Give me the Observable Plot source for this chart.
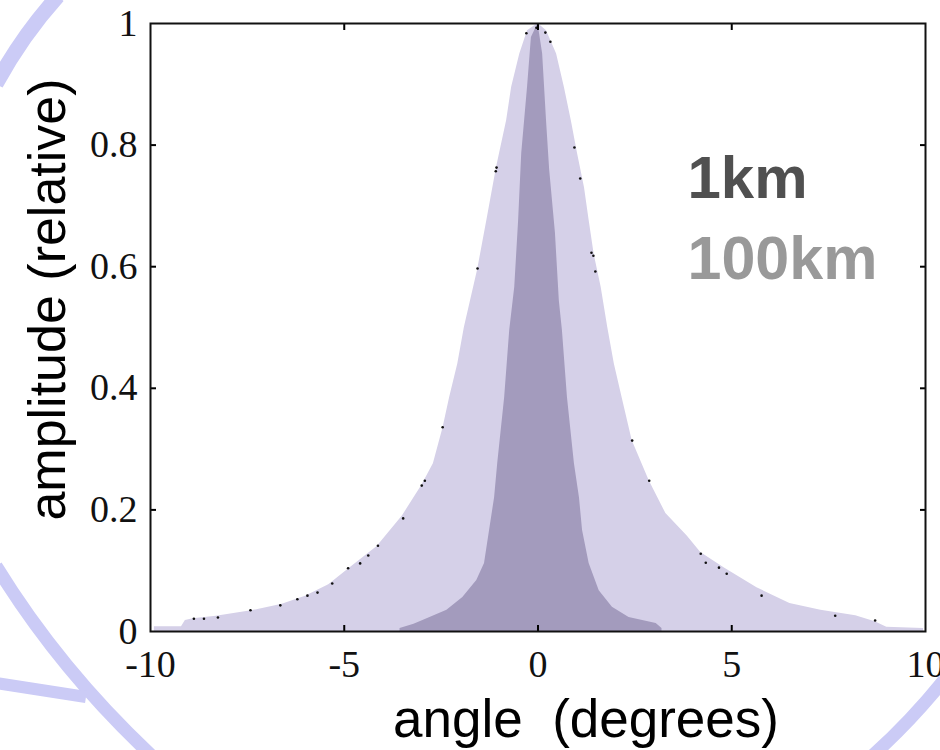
<!DOCTYPE html>
<html>
<head>
<meta charset="utf-8">
<script src="https://cdn.jsdelivr.net/npm/d3@7"></script>
<script src="https://cdn.jsdelivr.net/npm/@observablehq/plot@0.6"></script>
<style>
  html, body { margin: 0; padding: 0; background: #ffffff; }
  #wrap { position: relative; width: 940px; height: 750px; overflow: hidden; }
  #deco { position: absolute; left: 0; top: 0; }
  #chart { position: absolute; left: 0; top: 0; }
</style>
</head>
<body>
<div id="wrap">
  <svg id="deco" width="940" height="750" viewBox="0 0 940 750">
    <g fill="none" stroke="#cbcbf6" stroke-linecap="butt">
      <path d="M -4 84 Q 22 36 58 -4" stroke-width="15"/>
      <path d="M -4 566 Q 60 670 152 756" stroke-width="13"/>
      <path d="M -4 683 L 86 697" stroke-width="12"/>
      <path d="M 872 756 Q 910 722 944 680" stroke-width="13"/>
    </g>
  </svg>
  <div id="chart"></div>
</div>
<script>
// ---- data ----
// 100 km: wide distribution (light)
const angle100 = [-9.9, -9.2, -9.1, -8.9, -8.3, -7.4, -6.6, -6.0, -5.4, -4.85, -4.15, -3.5, -3.0, -2.7, -2.45, -2.28, -2.07, -1.9, -1.56, -1.32, -1.07, -0.81, -0.68, -0.47, -0.27, 0, 0.22, 0.48, 0.68, 0.86, 1.02, 1.2, 1.32, 1.45, 1.63, 1.8, 1.97, 2.17, 2.43, 2.87, 3.3, 3.85, 4.2, 4.8, 5.65, 6.5, 7.3, 8.2, 8.7, 9.0, 9.95];
const amp100   = [0.008, 0.008, 0.018, 0.021, 0.025, 0.034, 0.045, 0.058, 0.077, 0.105, 0.14, 0.19, 0.24, 0.276, 0.335, 0.385, 0.44, 0.5, 0.594, 0.676, 0.763, 0.84, 0.895, 0.95, 0.988, 1.0, 0.988, 0.95, 0.895, 0.84, 0.786, 0.73, 0.676, 0.62, 0.566, 0.5, 0.44, 0.385, 0.314, 0.248, 0.194, 0.157, 0.13, 0.105, 0.072, 0.046, 0.035, 0.026, 0.016, 0.007, 0.005];

// 1 km: narrow distribution (dark)
const angle1 = [-3.56, -3.2, -2.97, -2.35, -1.94, -1.58, -1.38, -1.25, -1.12, -1.04, -0.86, -0.73, -0.6, -0.5, -0.42, -0.27, -0.17, 0, 0.12, 0.22, 0.3, 0.45, 0.55, 0.63, 0.76, 0.94, 1.07, 1.15, 1.32, 1.58, 1.92, 2.35, 3.05, 3.2];
const amp1   = [0.005, 0.012, 0.018, 0.035, 0.056, 0.084, 0.112, 0.166, 0.22, 0.276, 0.385, 0.495, 0.566, 0.676, 0.786, 0.895, 0.977, 1.0, 0.95, 0.84, 0.76, 0.655, 0.544, 0.495, 0.385, 0.276, 0.22, 0.166, 0.112, 0.067, 0.04, 0.023, 0.013, 0.005];

// scattered black sample dots along the 100 km envelope
const dotAngle = [-0.30, -0.04, 0.19, 0.32, -1.07, -1.09, 0.94, 1.09, -1.56, 1.38, 1.43, 1.48, -2.46, -2.92, -3.0, -3.48, -4.13, -4.38, -4.59, -4.90, -5.31, -5.69, -5.95, -6.21, -6.65, -7.42, -8.26, -8.62, -8.88, 2.43, 2.87, 4.20, 4.33, 4.67, 4.87, 5.77, 7.67, 8.70];
const dotAmp   = [0.984, 0.993, 0.985, 0.970, 0.763, 0.757, 0.796, 0.745, 0.597, 0.623, 0.618, 0.592, 0.336, 0.248, 0.240, 0.186, 0.141, 0.125, 0.112, 0.104, 0.079, 0.064, 0.059, 0.053, 0.043, 0.035, 0.023, 0.021, 0.021, 0.314, 0.248, 0.128, 0.113, 0.105, 0.095, 0.059, 0.026, 0.018];

const xTickLabels = [-10, -5, 0, 5, 10];
const xInnerTicks = [-5, 0, 5];
const yTickLabels = [0, 0.2, 0.4, 0.6, 0.8, 1];
const yInnerTicks = [0.2, 0.4, 0.6, 0.8];

const legendLabels = ["1km", "100km"];
const legendColors = ["#505050", "#999999"];

const xTitle = "angle  (degrees)";
const yTitle = "amplitude (relative)";

// ---- build tables ----
const wide = angle100.map((a, i) => ({angle: a, amp: amp100[i]}));
const narrow = angle1.map((a, i) => ({angle: a, amp: amp1[i]}));
const dots = dotAngle.map((a, i) => ({angle: a, amp: dotAmp[i]}));

const serif = "'Liberation Serif', 'Times New Roman', serif";
const sans = "'Liberation Sans', Arial, Helvetica, sans-serif";

const chart = Plot.plot({
  width: 940,
  height: 750,
  marginLeft: 150,
  marginRight: 15,
  marginTop: 23,
  marginBottom: 119,
  style: {background: "transparent", overflow: "visible"},
  x: {domain: [-10, 10]},
  y: {domain: [0, 1]},
  marks: [
    Plot.areaY(wide, {x: "angle", y: "amp", fill: "#d5d0e8"}),
    Plot.areaY(narrow, {x: "angle", y: "amp", fill: "#a39bbd"}),
    Plot.dot(dots, {x: "angle", y: "amp", r: 1.3, fill: "#111", stroke: null}),
    // inward tick marks on all four sides
    Plot.axisX({anchor: "bottom", ticks: xInnerTicks, tickSize: -6, text: null, label: null, strokeWidth: 2}),
    Plot.axisX({anchor: "top", ticks: xInnerTicks, tickSize: -6, text: null, label: null, strokeWidth: 2}),
    Plot.axisY({anchor: "left", ticks: yInnerTicks, tickSize: -6, text: null, label: null, strokeWidth: 2}),
    Plot.axisY({anchor: "right", ticks: yInnerTicks, tickSize: -6, text: null, label: null, strokeWidth: 2}),
    // tick labels
    Plot.axisX({anchor: "bottom", ticks: xTickLabels, tickSize: 0, tickPadding: 19, tickFormat: d => String(d),
      label: null, fontSize: 38, fontFamily: serif, fill: "#111"}),
    Plot.axisY({anchor: "left", ticks: yTickLabels, tickSize: 0, tickPadding: 13, tickFormat: d => String(d),
      label: null, fontSize: 38, fontFamily: serif, fill: "#111"}),
    Plot.frame({stroke: "#111", strokeWidth: 2}),
    // axis titles
    Plot.text([yTitle], {frameAnchor: "left", dx: -102, dy: -28, rotate: -90, text: d => d,
      textAnchor: "middle", lineAnchor: "middle",
      fontSize: 52, fontFamily: sans, fill: "#000"}),
    Plot.text([xTitle], {frameAnchor: "bottom", dx: 48, dy: 89, text: d => d,
      textAnchor: "middle", lineAnchor: "middle",
      fontSize: 53, fontFamily: sans, fill: "#000"}),
    // legend
    Plot.text([legendLabels[0]], {frameAnchor: "top-left", dx: 537, dy: 155, text: d => d,
      textAnchor: "start", lineAnchor: "middle",
      fontSize: 60, fontWeight: "bold", fontFamily: sans, fill: legendColors[0]}),
    Plot.text([legendLabels[1]], {frameAnchor: "top-left", dx: 537, dy: 236, text: d => d,
      textAnchor: "start", lineAnchor: "middle",
      fontSize: 61, fontWeight: "bold", fontFamily: sans, fill: legendColors[1]})
  ]
});
document.getElementById("chart").appendChild(chart);
</script>
</body>
</html>
